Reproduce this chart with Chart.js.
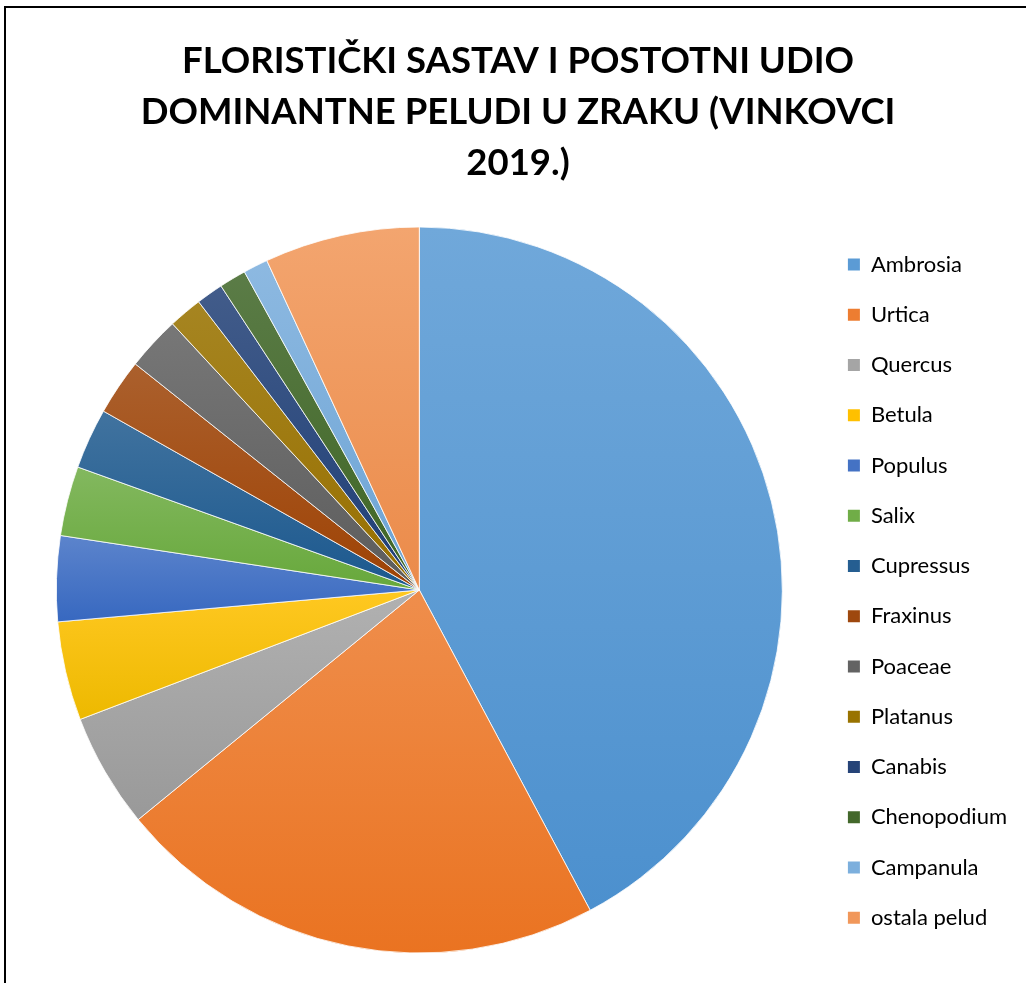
<!DOCTYPE html>
<html>
<head>
<meta charset="utf-8">
<script src="https://cdn.jsdelivr.net/npm/chart.js@4"></script>
<style>
  html, body { margin: 0; padding: 0; background: #fff; overflow: hidden; }
  #frame { position: absolute; left: 4px; top: 6px; width: 1100px; height: 1100px; border: 2px solid #000; pointer-events: none; }
  #pollenChart { position: absolute; left: 0; top: 0; }
</style>
</head>
<body>
<canvas id="pollenChart" width="1048" height="983"></canvas>
<div id="frame"></div>
<script>
const titleLines = [ 'FLORISTIČKI SASTAV I POSTOTNI UDIO', 'DOMINANTNE PELUDI U ZRAKU (VINKOVCI', '2019.)' ];
const labels = [ 'Ambrosia', 'Urtica', 'Quercus', 'Betula', 'Populus', 'Salix', 'Cupressus', 'Fraxinus', 'Poaceae', 'Platanus', 'Canabis', 'Chenopodium', 'Campanula', 'ostala pelud' ];
const values = [ 42.2, 21.9, 5.1, 4.4, 3.8, 3.1, 2.7, 2.5, 2.4, 1.5, 1.2, 1.2, 1.1, 6.9 ];
const colors = [ '#5B9BD5', '#ED7D31', '#A5A5A5', '#FFC000', '#4472C4', '#70AD47', '#255E91', '#9E480E', '#636363', '#997300', '#264478', '#43682B', '#7CAFDD', '#F1975A' ];

const pieRadius = 363;

// mix a hex colour with white (amt > 0) or black (amt < 0), optional saturation boost
function shade(hex, amt, sat = 1) {
  const n = parseInt(hex.slice(1), 16);
  let rgb = [ n >> 16, (n >> 8) & 255, n & 255 ];
  const mean = (rgb[0] + rgb[1] + rgb[2]) / 3;
  rgb = rgb.map(c => Math.max(0, Math.min(255, mean + (c - mean) * sat)));
  const t = amt > 0 ? 255 : 0, p = Math.abs(amt);
  rgb = rgb.map(c => Math.round(c + (t - c) * p));
  return `rgb(${rgb[0]}, ${rgb[1]}, ${rgb[2]})`;
}

// Excel-like vertical gradient, stretched over each slice's own height
function sliceFill(context) {
  const chart = context.chart;
  const area = chart.chartArea;
  const i = context.dataIndex;
  if (!area || i === undefined) return colors[i] || colors[0];
  const cy = (area.top + area.bottom) / 2;
  const r = Math.min(pieRadius, Math.min(area.width, area.height) / 2);
  const total = values.reduce((a, b) => a + b, 0);
  let before = 0;
  for (let k = 0; k < i; k++) before += values[k];
  const a0 = before / total * Math.PI * 2;
  const a1 = (before + values[i]) / total * Math.PI * 2;
  const ys = [ cy, cy - r * Math.cos(a0), cy - r * Math.cos(a1) ];
  if (a0 <= 0) ys.push(cy - r);
  if (a0 <= Math.PI && a1 >= Math.PI) ys.push(cy + r);
  const y0 = Math.min(...ys), y1 = Math.max(...ys);
  const grad = chart.ctx.createLinearGradient(0, y0, 0, y1);
  grad.addColorStop(0, shade(colors[i], 0.13));
  grad.addColorStop(1, shade(colors[i], -0.07, 1.15));
  return grad;
}

new Chart(document.getElementById('pollenChart'), {
  type: 'pie',
  data: {
    labels: labels,
    datasets: [ {
      data: values,
      backgroundColor: sliceFill,
      borderColor: 'rgba(255, 255, 255, 0.8)',
      borderWidth: 1,
      radius: pieRadius
    } ]
  },
  options: {
    responsive: false,
    animation: false,
    layout: {
      padding: { left: 19, right: 31, top: 0, bottom: 26 }
    },
    plugins: {
      title: {
        display: true,
        text: titleLines,
        color: '#000',
        font: { family: 'Lato', size: 36.5, weight: 'bold', lineHeight: 1.4 },
        padding: { top: 35.5, bottom: 34.2 }
      },
      legend: {
        position: 'right',
        align: 'end',
        labels: {
          color: '#000',
          font: { family: 'Lato', size: 22 },
          boxWidth: 12,
          boxHeight: 12,
          padding: 28.25,
          generateLabels: function (chart) {
            const items = Chart.overrides.pie.plugins.legend.labels.generateLabels(chart);
            items.forEach((item, k) => {
              item.fillStyle = colors[k];
              item.strokeStyle = colors[k];
              item.lineWidth = 0;
            });
            return items;
          }
        }
      },
      tooltip: { enabled: false }
    }
  }
});
</script>
</body>
</html>
